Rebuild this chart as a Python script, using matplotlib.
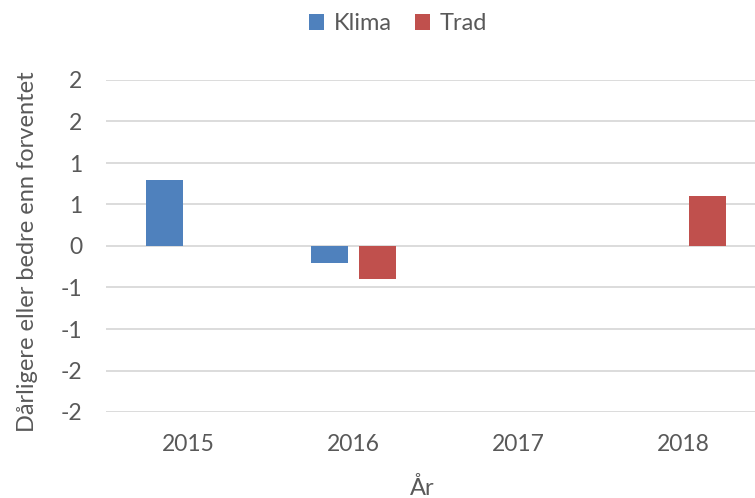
import numpy as np
import matplotlib
matplotlib.use("Agg")
import matplotlib.pyplot as plt

years = ["2015", "2016", "2017", "2018"]
klima = [0.8, -0.2, 0.0, 0.0]
trad = [0.0, -0.4, 0.0, 0.6]
y_ticks = [2, 1.5, 1, 0.5, 0, -0.5, -1, -1.5, -2]
y_tick_labels = ["2", "2", "1", "1", "0", "-1", "-1", "-2", "-2"]

plt.rcParams["font.family"] = ["Lato", "DejaVu Sans"]
text_color = "#595959"
fs = 16.5

fig = plt.figure(figsize=(7.55, 4.98), dpi=100)
ax = fig.add_axes([106 / 755, 86 / 498, 660 / 755, 332 / 498])

x = np.arange(len(years))
width = 0.224
offset = 0.1455
ax.bar(x - offset, klima, width, color="#4F81BD", label="Klima", zorder=3)
ax.bar(x + offset, trad, width, color="#C0504D", label="Trad", zorder=3)

ax.set_xlim(-0.5, 3.5)
ax.set_ylim(-2, 2)
ax.set_xticks(x)
ax.set_xticklabels(years)
ax.set_yticks(y_ticks)
ax.set_yticklabels(y_tick_labels)
ax.tick_params(axis="both", length=0, labelsize=fs, colors=text_color)
ax.tick_params(axis="x", pad=16)
ax.tick_params(axis="y", pad=17)
ax.grid(axis="y", color="#D9D9D9", linewidth=1.3, zorder=0)
for s in ax.spines.values():
    s.set_visible(False)

fig.text(28 / 755, 1 - 252 / 498, "Dårligere eller bedre enn forventet",
         rotation=90, ha="center", va="center", fontsize=17, color=text_color)
fig.text(422 / 755, 1 - 488 / 498, "År", ha="center", va="center",
         fontsize=17, color=text_color)

leg = fig.legend(loc="center", bbox_to_anchor=(398 / 755, 1 - 24 / 498), ncol=2,
                 frameon=False, fontsize=17, handlelength=0.65, handleheight=0.65,
                 handletextpad=0.4, columnspacing=1.0)
for t in leg.get_texts():
    t.set_color(text_color)

fig.savefig("out.png", dpi=100)
